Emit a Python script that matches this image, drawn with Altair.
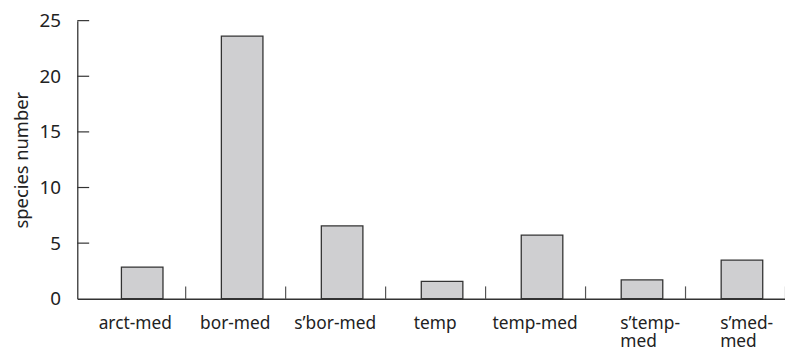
import altair as alt
import pandas as pd

categories = ["arct-med", "bor-med", "s’bor-med", "temp", "temp-med", "s’temp-med", "s’med-med"]
values = [2.85, 23.6, 6.55, 1.57, 5.72, 1.69, 3.47]
label_lines = [["arct-med"], ["bor-med"], ["s’bor-med"], ["temp"], ["temp-med"], ["s’temp-", "med"], ["s’med-", "med"]]
y_ticks = [0, 5, 10, 15, 20, 25]

df = pd.DataFrame({"cat": categories, "val": values})
tick_df = pd.DataFrame({"t": y_ticks[1:]})

# build label expression from label_lines
expr = "datum.value"
multi = []
for cat, lines in zip(categories, label_lines):
    if len(lines) > 1:
        multi.append(cat)
        arr = "[" + ", ".join("'" + s + "'" for s in lines) + "]"
        expr = f"datum.value == '{cat}' ? {arr} : ({expr})"
multi_test = "indexof([" + ", ".join("'" + c + "'" for c in multi) + "], datum.value) >= 0"

FONT = "Noto Sans"
AX = "#333333"

xscale = alt.Scale(domain=categories, paddingInner=0, paddingOuter=0.04, align=1)
yscale = alt.Scale(domain=[0, 25], nice=False)

bars = alt.Chart(df).mark_bar(
    size=42, xOffset=7, fill="#cfcfd1", stroke="#333333", strokeWidth=1.3
).encode(
    x=alt.X("cat:N", sort=categories, scale=xscale,
            axis=alt.Axis(title=None, orient="bottom", ticks=False, domain=True,
                          domainColor=AX, domainWidth=1.3, labelAngle=0,
                          labelFont=FONT, labelFontSize=17.5, labelColor="#222222",
                          labelPadding=16, labelExpr=expr, labelLineHeight=18,
                          labelBaseline="top",
                          labelAlign={"condition": {"test": multi_test, "value": "left"},
                                      "value": "center"},
                          labelOffset={"condition": {"test": multi_test, "value": -15},
                                       "value": 0})),
    y=alt.Y("val:Q", scale=yscale,
            axis=alt.Axis(title="species number", orient="left", values=y_ticks,
                          ticks=False, domain=True, domainColor=AX, domainWidth=1.3,
                          grid=False, labelFont=FONT, labelFontSize=19,
                          labelColor="#222222", labelPadding=17,
                          titleFont=FONT, titleFontSize=18.5, titleFontWeight="normal",
                          titleColor="#222222", titlePadding=8)),
)

xticks_layer = alt.Chart(df).mark_bar(opacity=0).encode(
    x=alt.X("cat:N", sort=categories, scale=xscale,
            axis=alt.Axis(title=None, orient="bottom", ticks=True, domain=False,
                          labels=False, bandPosition=1, tickExtra=False,
                          tickSize=13, tickColor="#555555", tickWidth=1.2, offset=-13)),
    y=alt.Y("val:Q", scale=yscale, axis=None),
)

yticks_layer = alt.Chart(tick_df).mark_rule(color=AX, strokeWidth=1.2).encode(
    y=alt.Y("t:Q", scale=yscale, axis=None),
    x=alt.value(0),
    x2=alt.value(12),
)

chart = alt.layer(bars, xticks_layer, yticks_layer).resolve_axis(
    x="independent", y="independent"
).properties(
    width=715, height=281,
    background="white",
    autosize=alt.AutoSizeParams(type="none"),
    padding={"left": 70, "top": 11, "right": 0, "bottom": 50},
).configure_view(stroke=None)

chart.save("out.html", embed_options={"renderer": "svg", "actions": False})
